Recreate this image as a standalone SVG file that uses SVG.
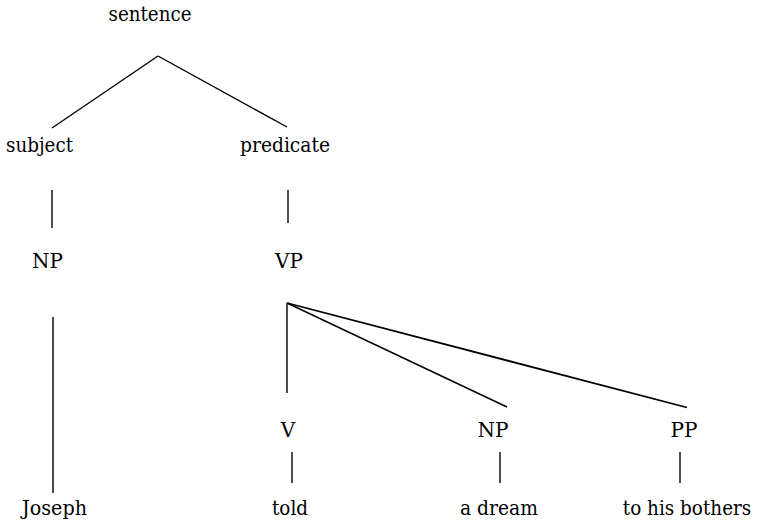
<svg xmlns="http://www.w3.org/2000/svg" width="759" height="522" viewBox="0 0 759 522">
<style>
text{font-family:"DejaVu Serif",serif;font-size:20px;fill:#000;text-anchor:middle}
line{stroke:#000;stroke-width:1.4;stroke-linecap:butt}
</style>
<rect width="759" height="522" fill="#fff"/>
<g id="connectors">
<line x1="158" y1="56" x2="52" y2="128"/>
<line x1="158" y1="56" x2="287" y2="127"/>
<line x1="52" y1="190" x2="52" y2="228"/>
<line x1="288" y1="190" x2="288" y2="223"/>
<line x1="53" y1="317" x2="53" y2="493"/>
<line x1="287" y1="303" x2="287" y2="393"/>
<line x1="287" y1="303" x2="507" y2="407"/>
<line x1="287" y1="303" x2="687" y2="407.5" style="stroke-width:1.8"/>
<line x1="292" y1="452" x2="292" y2="483"/>
<line x1="500" y1="452" x2="500" y2="483"/>
<line x1="680" y1="452" x2="680" y2="483"/>
</g>
<g id="sentence"><text x="150" y="21" textLength="83" lengthAdjust="spacingAndGlyphs">sentence</text></g>
<g id="subject"><text x="39.5" y="152" textLength="67" lengthAdjust="spacingAndGlyphs">subject</text></g>
<g id="predicate"><text x="285" y="152" textLength="90" lengthAdjust="spacingAndGlyphs">predicate</text></g>
<g id="np1"><text x="47.5" y="268">NP</text></g>
<g id="vp"><text x="289" y="268">VP</text></g>
<g id="v"><text x="288" y="437">V</text></g>
<g id="np2"><text x="493" y="437">NP</text></g>
<g id="pp"><text x="684" y="437">PP</text></g>
<g id="joseph"><text x="54.5" y="515" textLength="65" lengthAdjust="spacingAndGlyphs">Joseph</text></g>
<g id="told"><text x="290" y="515" textLength="36" lengthAdjust="spacingAndGlyphs">told</text></g>
<g id="adream"><text x="499" y="515" textLength="78" lengthAdjust="spacingAndGlyphs">a dream</text></g>
<g id="tohisbothers"><text x="0" y="0" transform="translate(687,515) scale(0.92,1)">to his bothers</text></g>
</svg>
